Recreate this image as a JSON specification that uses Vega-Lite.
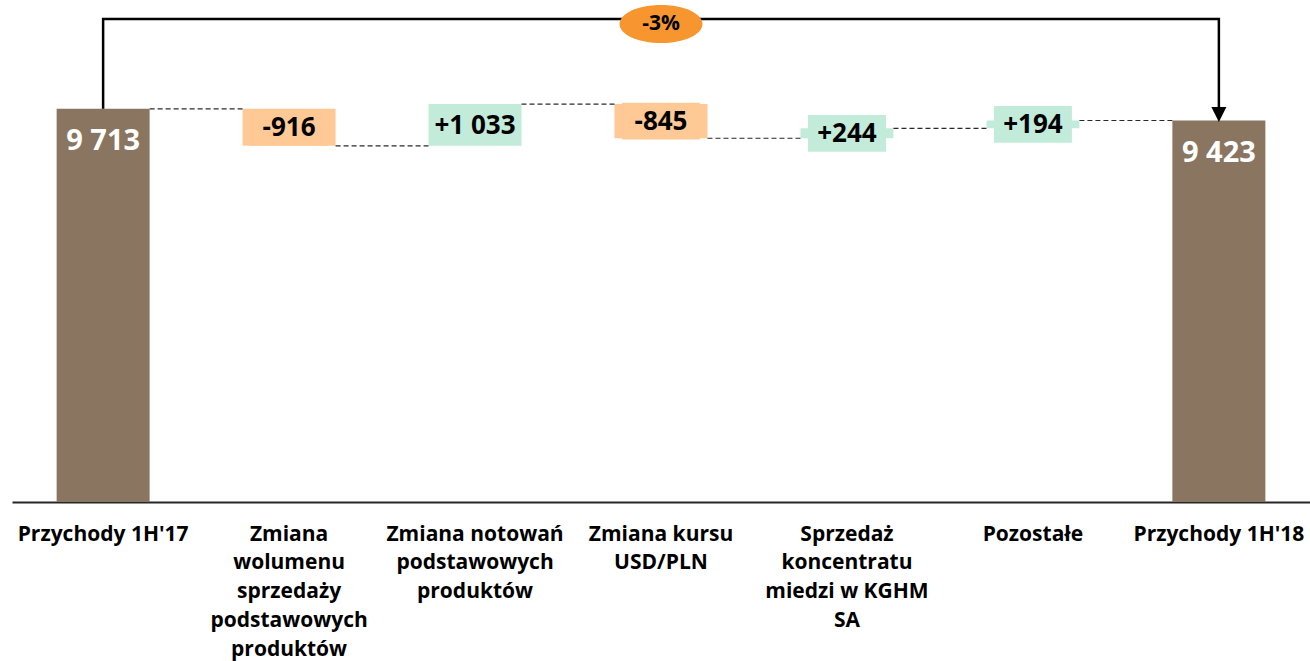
{
  "$schema": "https://vega.github.io/schema/vega-lite/v6.json",
  "width": 1298,
  "height": 502,
  "autosize": "none",
  "padding": {"left": 12, "top": 0, "right": 0, "bottom": 159},
  "background": "white",
  "config": {"view": {"stroke": null}, "font": "Open Sans"},
  "datasets": {
    "main": [
      {"cat": "Przychody 1H'17", "next": "Zmiana\nwolumenu\nsprzedaży\npodstawowych\nproduktów", "kind": "total", "start": 0, "end": 9713, "label": "9 713"},
      {"cat": "Zmiana\nwolumenu\nsprzedaży\npodstawowych\nproduktów", "next": "Zmiana notowań\npodstawowych\nproduktów", "kind": "decrease", "start": 9713, "end": 8797, "label": "-916"},
      {"cat": "Zmiana notowań\npodstawowych\nproduktów", "next": "Zmiana kursu\nUSD/PLN", "kind": "increase", "start": 8797, "end": 9830, "label": "+1 033"},
      {"cat": "Zmiana kursu\nUSD/PLN", "next": "Sprzedaż\nkoncentratu\nmiedzi w KGHM\nSA", "kind": "decrease", "start": 9830, "end": 8985, "label": "-845"},
      {"cat": "Sprzedaż\nkoncentratu\nmiedzi w KGHM\nSA", "next": "Pozostałe", "kind": "increase", "start": 8985, "end": 9229, "label": "+244"},
      {"cat": "Pozostałe", "next": "Przychody 1H'18", "kind": "increase", "start": 9229, "end": 9423, "label": "+194"},
      {"cat": "Przychody 1H'18", "next": null, "kind": "total", "start": 0, "end": 9423, "label": "9 423"}
    ],
    "arrow": [
      {"cat": "Przychody 1H'17", "v": 9713, "o": 1},
      {"cat": "Przychody 1H'17", "v": 11931, "o": 2},
      {"cat": "Przychody 1H'18", "v": 11931, "o": 3},
      {"cat": "Przychody 1H'18", "v": 9572, "o": 4}
    ],
    "head": [{"cat": "Przychody 1H'18", "v": 9572}],
    "pct": [{"cat": "Zmiana kursu\nUSD/PLN", "v": 11807, "label": "-3%"}]
  },
  "data": {"name": "main"},
  "encoding": {
    "x": {
      "field": "cat",
      "type": "nominal",
      "sort": null,
      "scale": {
        "type": "band",
        "domain": ["Przychody 1H'17", "Zmiana\nwolumenu\nsprzedaży\npodstawowych\nproduktów", "Zmiana notowań\npodstawowych\nproduktów", "Zmiana kursu\nUSD/PLN", "Sprzedaż\nkoncentratu\nmiedzi w KGHM\nSA", "Pozostałe", "Przychody 1H'18"],
        "paddingInner": 0.5,
        "paddingOuter": 0.24
      },
      "axis": {
        "title": null,
        "labelAngle": 0,
        "labelFont": "Open Sans",
        "labelFontWeight": "bold",
        "labelFontSize": 21,
        "labelColor": "#000000",
        "labelLineHeight": 28.8,
        "labelPadding": 21,
        "labelLimit": 300,
        "ticks": false,
        "grid": false,
        "domainColor": "#262626",
        "domainWidth": 2,
        "labelExpr": "split(datum.label, '\\n')"
      }
    }
  },
  "layer": [
    {
      "mark": {"type": "bar"},
      "encoding": {
        "y": {"field": "start", "type": "quantitative", "scale": {"domain": [0, 12400], "nice": false, "zero": true}, "axis": null},
        "y2": {"field": "end"},
        "color": {"field": "kind", "type": "nominal", "scale": {"domain": ["total", "increase", "decrease"], "range": ["#8A7560", "#C3EBDA", "#FEC994"]}, "legend": null}
      }
    },
    {
      "transform": [
        {"filter": "datum.kind != 'total'"},
        {"calculate": "(datum.start + datum.end) / 2", "as": "mid"}
      ],
      "mark": {"type": "point", "filled": true, "opacity": 1, "shape": "M-1,-0.47H1V0.47H-1Z", "size": 6084},
      "encoding": {
        "y": {"field": "mid", "type": "quantitative", "axis": null},
        "color": {"field": "kind", "type": "nominal", "legend": null}
      }
    },
    {
      "transform": [{"filter": "datum.next != null"}],
      "mark": {"type": "rule", "color": "#2b2b2b", "strokeWidth": 1.2, "strokeDash": [5, 3], "xOffset": 46.5, "x2Offset": -46.5},
      "encoding": {
        "x2": {"field": "next"},
        "y": {"field": "end", "type": "quantitative", "axis": null}
      }
    },
    {
      "transform": [
        {"filter": "datum.kind != 'total'"},
        {"calculate": "(datum.start + datum.end) / 2", "as": "mid"}
      ],
      "mark": {"type": "text", "font": "Open Sans", "fontWeight": "bold", "fontSize": 26, "color": "#000000", "baseline": "middle", "align": "center", "dy": 1},
      "encoding": {
        "y": {"field": "mid", "type": "quantitative", "axis": null},
        "text": {"field": "label"}
      }
    },
    {
      "transform": [{"filter": "datum.kind == 'total'"}],
      "mark": {"type": "text", "font": "Open Sans", "fontWeight": "bold", "fontSize": 29, "color": "#FFFFFF", "baseline": "middle", "align": "center", "dy": 32},
      "encoding": {
        "y": {"field": "end", "type": "quantitative", "axis": null},
        "text": {"field": "label"}
      }
    },
    {
      "data": {"name": "arrow"},
      "mark": {"type": "line", "color": "#000000", "strokeWidth": 2.5, "strokeJoin": "miter"},
      "encoding": {
        "y": {"field": "v", "type": "quantitative", "axis": null},
        "order": {"field": "o", "type": "quantitative"}
      }
    },
    {
      "data": {"name": "head"},
      "mark": {"type": "point", "filled": true, "opacity": 1, "color": "#000000", "shape": "M-1,-1H1L0,1Z", "size": 225},
      "encoding": {
        "y": {"field": "v", "type": "quantitative", "axis": null}
      }
    },
    {
      "data": {"name": "pct"},
      "mark": {"type": "point", "filled": true, "opacity": 1, "color": "#F7962F", "shape": "M-1,0A1,0.46 0 1,0 1,0A1,0.46 0 1,0 -1,0Z", "size": 6889},
      "encoding": {
        "y": {"field": "v", "type": "quantitative", "axis": null}
      }
    },
    {
      "data": {"name": "pct"},
      "mark": {"type": "text", "font": "Open Sans", "fontWeight": "bold", "fontSize": 21, "color": "#000000", "baseline": "middle", "align": "center"},
      "encoding": {
        "y": {"field": "v", "type": "quantitative", "axis": null},
        "text": {"field": "label"}
      }
    }
  ]
}
